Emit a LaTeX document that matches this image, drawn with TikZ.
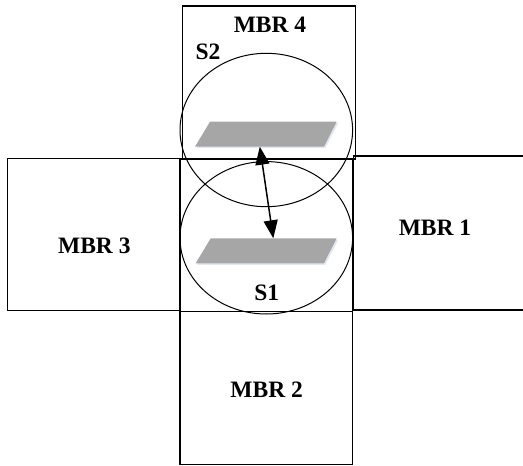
\documentclass[tikz,border=0pt]{standalone}
\usepackage{fontspec}
\setmainfont{Liberation Serif}
\usetikzlibrary{arrows.meta,shapes.geometric}
\definecolor{slabgray}{RGB}{166,166,166}
\definecolor{slabshade}{RGB}{226,233,242}
\begin{document}
\begin{tikzpicture}[x=1pt,y=-1pt,
  box/.style={draw=black,line width=1.4pt,rectangle,inner sep=0pt},
  ring/.style={draw=black,line width=1pt,ellipse,inner sep=0pt},
  lbl/.style={font=\fontsize{23.5}{26}\selectfont\bfseries,inner sep=0pt},
  slab/.style={fill=slabgray},
  shade/.style={fill=slabshade},
  link/.style={line width=1.5pt,{Triangle[length=18pt,width=14pt]}-{Triangle[length=18pt,width=14pt]}}
  ]
\useasboundingbox (0,0) rectangle (523,466);

% minimum bounding rectangles
\node[box,minimum width=172.6pt,minimum height=153pt] (mbr4) at (269,82.5) {};
\node[box,minimum width=172.7pt,minimum height=152.4pt] (mbr3) at (93.7,234.5) {};
\node[box,minimum width=172.7pt,minimum height=152.6pt] (mbr2) at (266.4,388) {};
\draw[draw=black,line width=1.4pt] (524,156) -- (353.3,156) -- (353.3,310) -- (524,310);
\coordinate (mbr1) at (435,233);
\node[box,minimum width=172.7pt,minimum height=152.7pt] (core) at (266.4,235.4) {};

% search regions
\node[ring,minimum width=172.6pt,minimum height=153.4pt] (s2) at (266.3,130) {};
\node[ring,minimum width=172.6pt,minimum height=152.4pt] (s1) at (266.3,237.8) {};

% objects
\fill[shade] (211.5,123.2) -- (338.2,123.2) -- (325.5,148.2) -- (196.5,148.2) -- cycle;
\fill[slab] (210,121.7) -- (336.7,121.7) -- (324,146.7) -- (195,146.7) -- cycle;
\fill[shade] (212.2,239.8) -- (338.2,239.8) -- (325.5,264.8) -- (197.2,264.8) -- cycle;
\fill[slab] (210.7,238.3) -- (336.7,238.3) -- (324,263.3) -- (195.7,263.3) -- cycle;
\coordinate (o2) at (259.8,146.7);
\coordinate (o1) at (273.3,238.3);
\draw[link] (o2) -- (o1);

% labels
\node[lbl] (t4) at (270,24.5) {MBR 4};
\node[lbl] (t3) at (94.3,246) {MBR 3};
\node[lbl] (t1) at (435,227.3) {MBR 1};
\node[lbl] (t2) at (266.7,389.3) {MBR 2};
\node[lbl] (ts2) at (208,52) {S2};
\node[lbl] (ts1) at (266.7,293.3) {S1};
\end{tikzpicture}
\end{document}
